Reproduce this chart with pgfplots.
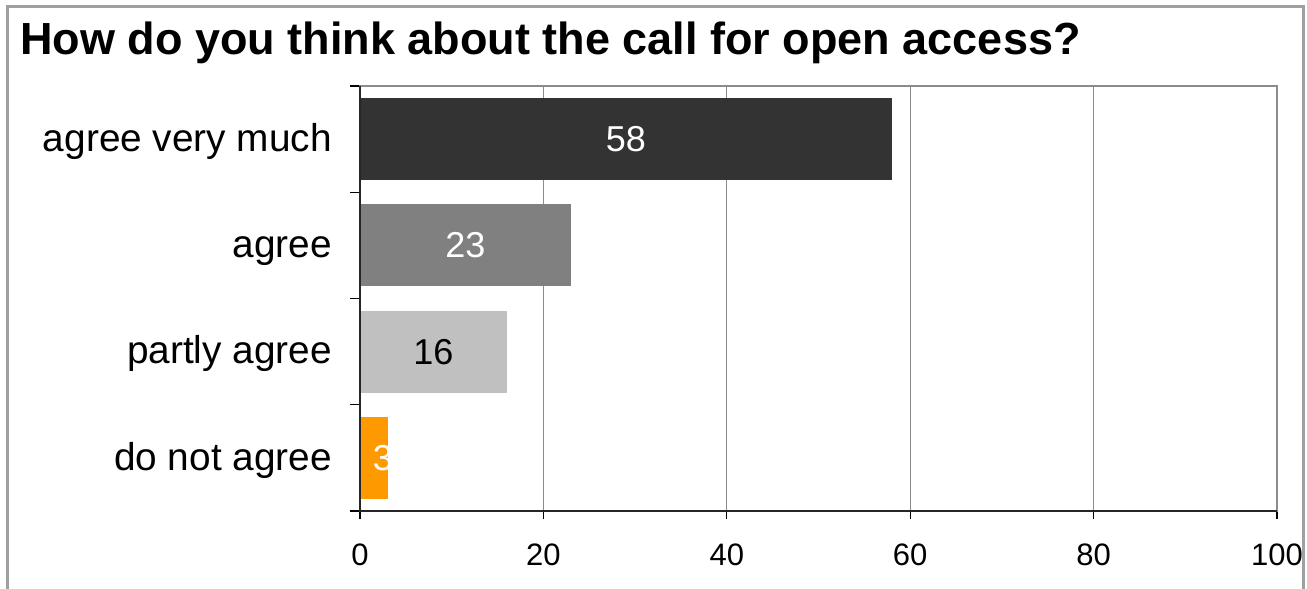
\documentclass[border=0pt]{standalone}
\usepackage{fontspec}
\setmainfont{Liberation Sans}
\usepackage{pgfplots}
\pgfplotsset{compat=1.18}
\definecolor{cA}{HTML}{333333}
\definecolor{cB}{HTML}{808080}
\definecolor{cC}{HTML}{C0C0C0}
\definecolor{cD}{HTML}{FF9900}
\definecolor{frame}{HTML}{A0A0A0}
\definecolor{axgray}{HTML}{8C8C8C}
\begin{document}
\begin{tikzpicture}
\useasboundingbox (-180pt,-39pt) rectangle (473.5pt,255.5pt);
\draw[color=frame, line width=1.5pt] (-176pt,-45pt) -- (-176pt,252pt) -- (471.5pt,252pt) -- (471.5pt,-45pt);
\node[anchor=base west, inner sep=0pt, font=\fontsize{22.5}{27}\selectfont\bfseries] at (-170pt,228pt) {How do you think about the call for open access?};
\begin{axis}[
  at={(0pt,0pt)}, anchor=south west, scale only axis,
  width=458.5pt, height=212.5pt,
  xmin=0, xmax=100, ymin=-0.5, ymax=3.5,
  xtick={0,20,40,60,80,100},
  ytick={0,1,2,3},
  yticklabels={do not agree, partly agree, agree, agree very much},
  minor ytick={-0.5,0.5,1.5,2.5,3.5},
  xtick pos=left, ytick pos=left,
  xmajorgrids, grid style={axgray, line width=0.5pt},
  tick align=outside, major tick length=4pt, minor tick length=5pt,
  major y tick style={draw=none},
  minor y tick style={draw=black, line width=0.6pt},
  major x tick style={draw=black, line width=0.6pt},
  axis line style={axgray, line width=1.2pt},
  clip=false,
  /pgf/number format/assume math mode=true,
  xticklabel style={font=\fontsize{15.5}{18}\selectfont, yshift=-9pt},
  yticklabel style={font=\fontsize{19.4}{22}\selectfont, text height=0.72em, text depth=0pt, xshift=-6.5pt, yshift=-2.5pt},
  after end axis/.code={
    \draw[black!85, line width=1.2pt] (rel axis cs:0,1) -- (rel axis cs:0,0) -- (rel axis cs:1,0);
  },
]
\addplot[xbar, bar shift=0pt, bar width=0.77, fill=cA, draw=none] coordinates {(58,3)};
\addplot[xbar, bar shift=0pt, bar width=0.77, fill=cB, draw=none] coordinates {(23,2)};
\addplot[xbar, bar shift=0pt, bar width=0.77, fill=cC, draw=none] coordinates {(16,1)};
\addplot[xbar, bar shift=0pt, bar width=0.77, fill=cD, draw=none] coordinates {(3,0)};
\addplot[draw=none, mark=none, nodes near coords, point meta=explicit symbolic,
  nodes near coords style={anchor=center, inner sep=0pt, text=white, font=\fontsize{18}{21}\selectfont}]
  coordinates {(29,3) [58] (11.5,2) [23] (2.5,0) [3]};
\addplot[draw=none, mark=none, nodes near coords, point meta=explicit symbolic,
  nodes near coords style={anchor=center, inner sep=0pt, text=black, font=\fontsize{18}{21}\selectfont}]
  coordinates {(8,1) [16]};
\end{axis}
\end{tikzpicture}
\end{document}
